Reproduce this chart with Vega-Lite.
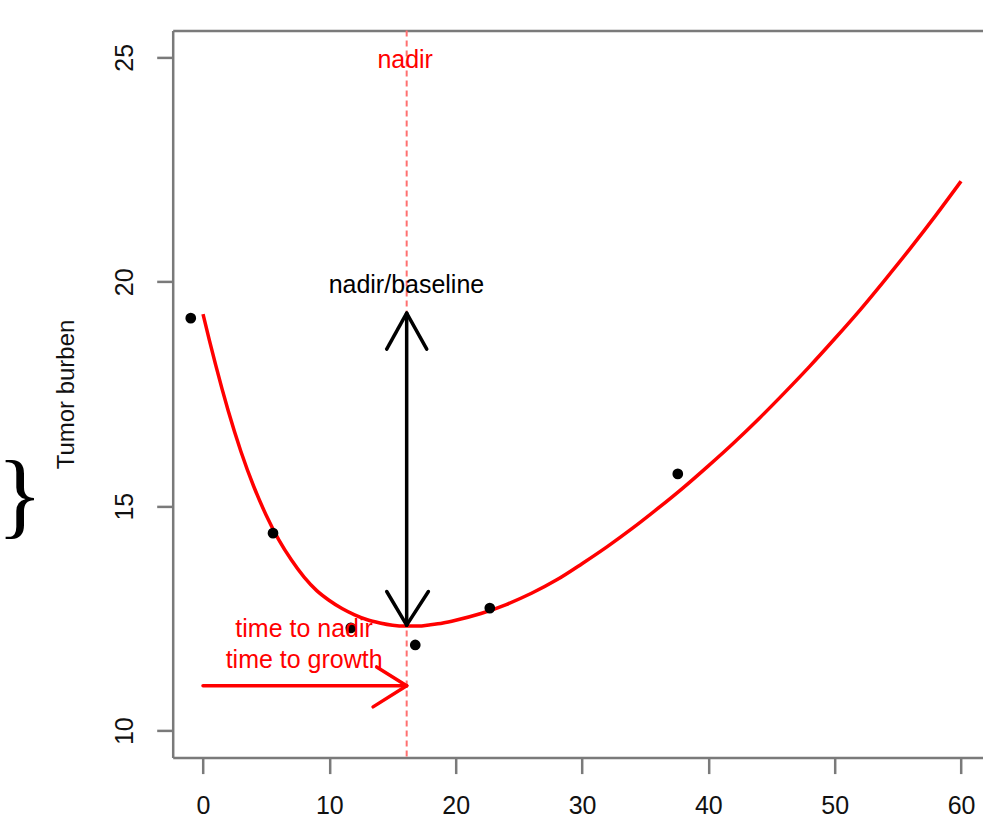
{
  "$schema": "https://vega.github.io/schema/vega-lite/v6.json",
  "autosize": "none",
  "padding": {"left": 172.7, "top": 30.4, "right": 0, "bottom": 80},
  "width": 810.2,
  "height": 727.2,
  "background": "white",
  "config": {
    "view": {"stroke": null},
    "font": "Liberation Sans",
    "axis": {"grid": false, "domainColor": "#7a7a7a", "domainWidth": 2.5, "tickColor": "#7a7a7a", "tickWidth": 2.5, "tickSize": 16, "labelFont": "Liberation Sans", "labelFontSize": 25, "labelColor": "#111111", "titleFont": "Liberation Sans", "titleFontSize": 24, "titleFontWeight": "normal", "titleColor": "#111111"}
  },
  "datasets": {
    "obs": [
      {"t": -0.97, "v": 19.19},
      {"t": 5.54, "v": 14.4},
      {"t": 11.7, "v": 12.29},
      {"t": 16.8, "v": 11.91},
      {"t": 22.7, "v": 12.73},
      {"t": 37.58, "v": 15.72}
    ],
    "fit": [
      {"t": 0, "v": 19.28}, {"t": 0.5, "v": 18.7}, {"t": 1, "v": 18.15}, {"t": 1.5, "v": 17.62},
      {"t": 2, "v": 17.12}, {"t": 3, "v": 16.22}, {"t": 4, "v": 15.45}, {"t": 5, "v": 14.8},
      {"t": 6, "v": 14.25}, {"t": 7, "v": 13.8}, {"t": 8, "v": 13.42}, {"t": 9, "v": 13.12},
      {"t": 10, "v": 12.9}, {"t": 11, "v": 12.72}, {"t": 12, "v": 12.58}, {"t": 13, "v": 12.47},
      {"t": 14, "v": 12.4}, {"t": 15, "v": 12.35}, {"t": 16, "v": 12.33}, {"t": 17, "v": 12.33},
      {"t": 18, "v": 12.36}, {"t": 19, "v": 12.4}, {"t": 20, "v": 12.46}, {"t": 22, "v": 12.61},
      {"t": 24, "v": 12.81}, {"t": 26, "v": 13.06}, {"t": 28, "v": 13.36}, {"t": 30, "v": 13.72},
      {"t": 32, "v": 14.1}, {"t": 34, "v": 14.51}, {"t": 36, "v": 14.95}, {"t": 38, "v": 15.41},
      {"t": 40, "v": 15.9}, {"t": 42, "v": 16.41}, {"t": 44, "v": 16.95}, {"t": 46, "v": 17.52},
      {"t": 48, "v": 18.11}, {"t": 50, "v": 18.73}, {"t": 52, "v": 19.37}, {"t": 54, "v": 20.05},
      {"t": 56, "v": 20.75}, {"t": 58, "v": 21.48}, {"t": 60, "v": 22.24}
    ],
    "segs": [
      {"arrow": "ratio", "t": 16.12, "v": 12.35, "t2": 16.12, "v2": 19.3},
      {"arrow": "ratio", "t": 16.12, "v": 19.3, "t2": 14.54, "v2": 18.5},
      {"arrow": "ratio", "t": 16.12, "v": 19.3, "t2": 17.71, "v2": 18.5},
      {"arrow": "ratio", "t": 16.12, "v": 12.35, "t2": 14.54, "v2": 13.1},
      {"arrow": "ratio", "t": 16.12, "v": 12.35, "t2": 17.84, "v2": 13.1},
      {"arrow": "time", "t": 0, "v": 11.0, "t2": 16.12, "v2": 11.0},
      {"arrow": "time", "t": 16.12, "v": 11.0, "t2": 13.74, "v2": 11.42},
      {"arrow": "time", "t": 16.12, "v": 11.0, "t2": 13.46, "v2": 10.53}
    ],
    "nadir": [{"t": 16.12}],
    "labels": [
      {"label": "nadir", "kind": "red", "t": 16.0, "v": 24.94},
      {"label": "nadir/baseline", "kind": "black", "t": 16.1, "v": 19.93},
      {"label": "time to nadir", "kind": "red", "t": 8.0, "v": 12.27},
      {"label": "time to growth", "kind": "red", "t": 8.0, "v": 11.58}
    ],
    "brace": [{"label": "}", "t": -14.5, "v": 15.2}]
  },
  "resolve": {"axis": {"x": "independent"}},
  "layer": [
    {
      "data": {"name": "nadir"},
      "mark": {"type": "rule", "color": "#ff7070", "strokeWidth": 2, "strokeDash": [6, 4]},
      "encoding": {
        "x": {"field": "t", "type": "quantitative", "scale": {"domain": [-2.4, 61.73], "nice": false, "zero": false},
          "axis": {"orient": "top", "labels": false, "ticks": false, "title": null}}
      }
    },
    {
      "data": {"name": "fit"},
      "mark": {"type": "line", "color": "#ff0000", "strokeWidth": 3.5, "interpolate": "monotone"},
      "encoding": {
        "x": {"field": "t", "type": "quantitative", "scale": {"domain": [-2.4, 61.73], "nice": false, "zero": false},
          "axis": {"orient": "bottom", "values": [0, 10, 20, 30, 40, 50, 60], "title": null, "labelPadding": 20, "labelFlush": false}},
        "y": {"field": "v", "type": "quantitative", "title": "Tumor burben", "scale": {"domain": [9.4, 25.6], "nice": false, "zero": false},
          "axis": {"values": [10, 15, 20, 25], "labelAngle": -90, "labelAlign": "center", "labelBaseline": "bottom", "labelPadding": 19, "titlePadding": 34}}
      }
    },
    {
      "data": {"name": "segs"},
      "mark": {"type": "rule", "strokeWidth": 3.5, "strokeCap": "round"},
      "encoding": {
        "x": {"field": "t", "type": "quantitative", "axis": null},
        "y": {"field": "v", "type": "quantitative", "title": "Tumor burben"},
        "x2": {"field": "t2"},
        "y2": {"field": "v2"},
        "color": {"field": "arrow", "type": "nominal", "scale": {"domain": ["ratio", "time"], "range": ["#000000", "#ff0000"]}, "legend": null}
      }
    },
    {
      "data": {"name": "obs"},
      "mark": {"type": "circle", "color": "#000000", "opacity": 1, "size": 115},
      "encoding": {
        "x": {"field": "t", "type": "quantitative", "axis": null},
        "y": {"field": "v", "type": "quantitative", "title": "Tumor burben"}
      }
    },
    {
      "data": {"name": "labels"},
      "mark": {"type": "text", "fontSize": 25, "font": "Liberation Sans", "align": "center", "baseline": "middle"},
      "encoding": {
        "x": {"field": "t", "type": "quantitative", "axis": null},
        "y": {"field": "v", "type": "quantitative", "title": "Tumor burben"},
        "text": {"field": "label"},
        "color": {"field": "kind", "type": "nominal", "scale": {"domain": ["black", "red"], "range": ["#111111", "#ff1a1a"]}, "legend": null}
      }
    },
    {
      "data": {"name": "brace"},
      "mark": {"type": "text", "fontSize": 95, "font": "Liberation Serif", "align": "center", "baseline": "middle", "clip": false, "color": "#000000"},
      "encoding": {
        "x": {"field": "t", "type": "quantitative", "axis": null},
        "y": {"field": "v", "type": "quantitative", "title": "Tumor burben"},
        "text": {"field": "label"}
      }
    }
  ]
}
